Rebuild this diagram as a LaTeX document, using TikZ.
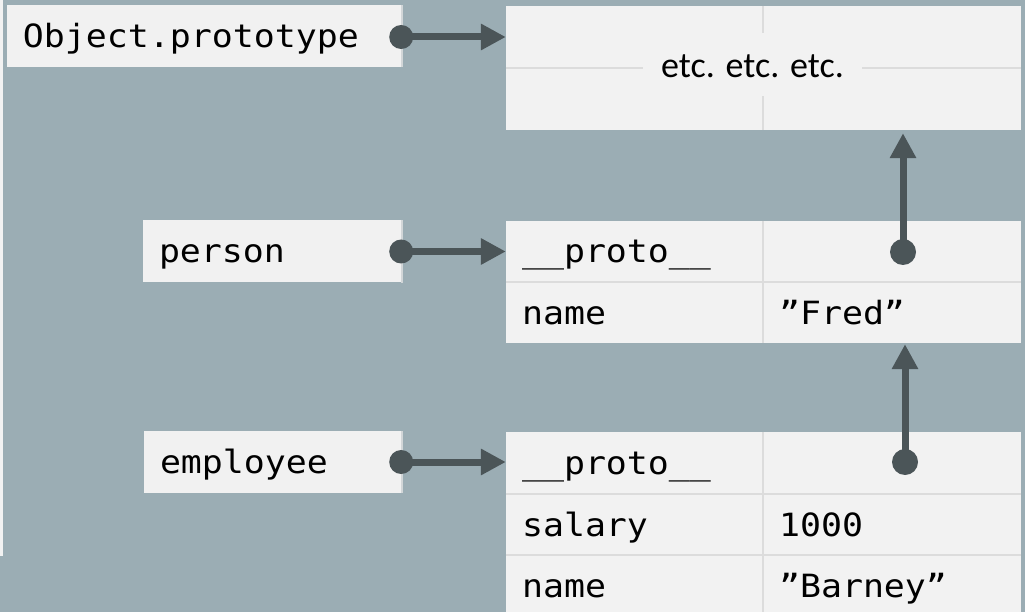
\documentclass[tikz,border=0pt]{standalone}
\usepackage{fontspec}
\newfontfamily\monof[FakeStretch=1.09]{DejaVu Sans Mono}
\newfontfamily\calf{Carlito}
\usetikzlibrary{arrows.meta}
\definecolor{bgc}{HTML}{9BADB4}
\definecolor{lblfill}{HTML}{F1F1F1}
\definecolor{tblfill}{HTML}{F2F2F2}
\definecolor{gridc}{HTML}{DCDCDC}
\definecolor{arrc}{HTML}{4B5558}
\definecolor{shadec}{HTML}{D2D6D8}
\begin{document}
\begin{tikzpicture}[x=1pt,y=-1pt,
  lbl/.style={fill=lblfill, font=\monof\fontsize{32}{38}\selectfont, inner xsep=16pt, inner ysep=0pt,
    align=left, text height=28pt, text depth=5pt, minimum height=62pt},
  tbl/.style={fill=tblfill, inner sep=0pt},
  cell/.style={font=\monof\fontsize{32}{38}\selectfont, inner xsep=16pt, inner ysep=0pt,
    align=left, text height=28pt, text depth=5pt, minimum height=61pt},
  keyc/.style={cell, text width=225pt},
  valc/.style={cell, text width=226pt},
  gridl/.style={draw=gridc, line width=2pt},
  shadel/.style={draw=shadec, line width=2pt},
  conn/.style={draw=arrc, line width=7pt, -{Triangle[length=25pt,width=25pt]}},
  dotc/.style={fill=arrc}
]
\useasboundingbox (0,0) rectangle (1025,612);
\clip (0,0) rectangle (1025,612);
\fill[bgc] (0,0) rectangle (1025,612);
\fill[tblfill] (0,0) rectangle (3,556);

% tables
\node[tbl, minimum width=515pt, minimum height=124pt] (top) at (763.5,68) {};
\node[tbl, minimum width=515pt, minimum height=122pt] (ptab) at (763.5,282) {};
\node[tbl, minimum width=515pt, minimum height=184pt] (etab) at (763.5,524) {};

% grid lines
\draw[gridl] (top.north -| 763,0) -- (top.south -| 763,0);
\draw[gridl] (top.west |- 0,68) -- (top.east |- 0,68);
\draw[gridl] (ptab.north -| 763,0) -- (ptab.south -| 763,0);
\draw[gridl] (ptab.west |- 0,282) -- (ptab.east |- 0,282);
\draw[gridl] (etab.north -| 763,0) -- (etab.south -| 763,0);
\draw[gridl] (etab.west |- 0,494) -- (etab.east |- 0,494);
\draw[gridl] (etab.west |- 0,555) -- (etab.east |- 0,555);

\node[fill=tblfill, minimum width=219pt, minimum height=63pt, inner sep=0pt,
  font=\calf\fontsize{36}{42}\selectfont, text height=33pt, text depth=6pt] (etc) at (752.5,64.5) {etc. etc. etc.};

% cells
\node[keyc] (p0k) at (634.5,251.5) {\_\_proto\_\_};
\node[valc] (p0v) at (892,251.5) {};
\node[keyc] (p1k) at (634.5,312.5) {name};
\node[valc] (p1v) at (892,312.5) {”Fred”};
\node[keyc] (e0k) at (634.5,463) {\_\_proto\_\_};
\node[valc] (e0v) at (892,463) {};
\node[keyc] (e1k) at (634.5,524.5) {salary};
\node[valc] (e1v) at (892,524.5) {1000};
\node[keyc] (e2k) at (634.5,585.5) {name};
\node[valc] (e2v) at (892,585.5) {”Barney”};

% labels
\node[lbl, text width=364pt] (obj) at (205,36) {Object.prototype};
\node[lbl, text width=228pt] (per) at (273,251.5) {person};
\node[lbl, text width=227pt] (emp) at (273.5,462) {employee};
\foreach \n in {obj,per,emp}{
  \draw[shadel] ([xshift=-1pt]\n.north east) -- ([xshift=-1pt]\n.south east);
}

% horizontal connectors
\coordinate (od) at ([xshift=-2pt,yshift=-1pt]obj.east);
\coordinate (pd) at ([xshift=-2pt]per.east);
\coordinate (ed) at ([xshift=-2pt]emp.east);
\draw[conn] (od) -- (od -| top.west);
\draw[conn] (pd) -- (pd -| ptab.west);
\draw[conn] (ed) -- (ed -| etab.west);
\fill[dotc] (od) circle[radius=12pt];
\fill[dotc] (pd) circle[radius=12pt];
\fill[dotc] (ed) circle[radius=12pt];

% vertical connectors
\coordinate (pv) at (903,252);
\coordinate (ev) at (905,462);
\draw[conn] (pv) -- ([yshift=-3pt]pv |- top.south);
\draw[conn] (ev) -- ([yshift=-1pt]ev |- ptab.south);
\fill[dotc] (pv) circle[radius=13pt];
\fill[dotc] (ev) circle[radius=13pt];
\end{tikzpicture}
\end{document}
